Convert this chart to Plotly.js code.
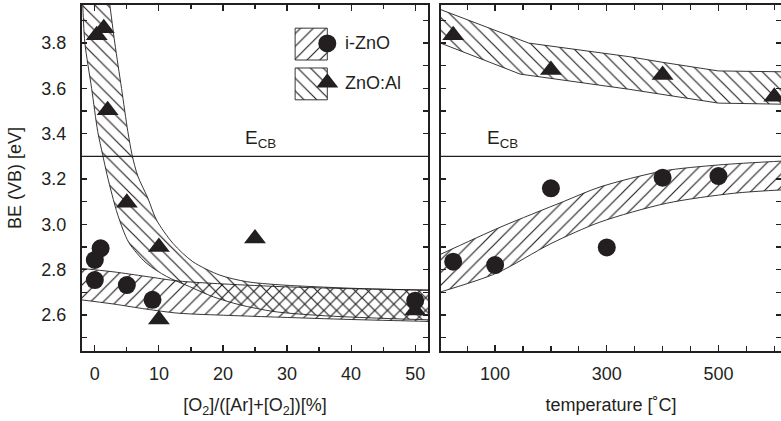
<!DOCTYPE html>
<html>
<head>
<meta charset="utf-8">
<script src="https://cdn.plot.ly/plotly-3.0.1.min.js"></script>
<style>
  html, body { margin: 0; padding: 0; background: #fff; }
  #chart { width: 781px; height: 421px; }
</style>
</head>
<body>
<div id="chart"></div>
<script>
// Valence-band binding energy of i-ZnO and ZnO:Al films
// versus O2 fraction in the sputter gas (left) and deposition temperature (right).

// ---- left panel: O2 fraction [%] ----
const o2Izno   = [0, 0.9, 0, 5, 9, 50];
const beO2Izno = [2.843, 2.894, 2.754, 2.732, 2.667, 2.663];
const o2Al     = [0.3, 1.4, 2, 5, 10, 10, 25, 50];
const beO2Al   = [3.835, 3.865, 3.504, 3.095, 2.90, 2.58, 2.938, 2.62];

// guide bands (lower / upper edge) for the O2 series
const o2AlLowX  = [-2.1, -1.9, -1.55, -0.5, 0.45, 1.2, 1.9, 2.7, 3.6, 5.3, 8.0, 11.2, 14.8, 18.5, 22.6, 28, 35, 45, 53];
const o2AlLowY  = [4.05, 3.97, 3.80, 3.60, 3.41, 3.31, 3.22, 3.13, 3.04, 2.92, 2.83, 2.77, 2.725, 2.68, 2.645, 2.615, 2.598, 2.585, 2.578];
const o2AlHighX = [1.9, 2.34, 3.12, 4.17, 5.15, 5.82, 6.71, 8.27, 9.63, 12.2, 15.3, 19.5, 23.7, 28.9, 40, 53];
const o2AlHighY = [4.05, 3.968, 3.80, 3.60, 3.41, 3.306, 3.213, 3.116, 3.019, 2.916, 2.835, 2.776, 2.747, 2.733, 2.718, 2.708];
const o2ZnoLowX  = [-3, 3, 8, 13, 21, 29, 40, 53];
const o2ZnoLowY  = [2.67, 2.648, 2.626, 2.608, 2.598, 2.59, 2.58, 2.571];
const o2ZnoHighX = [-3, 3, 8, 13, 20, 30, 40, 53];
const o2ZnoHighY = [2.808, 2.79, 2.77, 2.75, 2.737, 2.724, 2.716, 2.71];

// ---- right panel: temperature [°C] ----
const tIzno   = [25, 100, 200, 300, 400, 500];
const beTIzno = [2.835, 2.82, 3.159, 2.898, 3.206, 3.213];
const tAl     = [25, 200, 400, 600];
const beTAl   = [3.835, 3.681, 3.659, 3.563];

const tAlLowX  = [0, 145, 340, 400, 500, 620];
const tAlLowY  = [3.802, 3.663, 3.596, 3.574, 3.535, 3.53];
const tAlHighX = [0, 160, 340, 400, 500, 620];
const tAlHighY = [3.95, 3.80, 3.74, 3.715, 3.677, 3.673];
const tZnoLowX  = [0, 103, 200, 288, 407, 527, 620];
const tZnoLowY  = [2.70, 2.785, 2.915, 3.01, 3.093, 3.137, 3.153];
const tZnoHighX = [0, 109, 222, 288, 400, 500, 620];
const tZnoHighY = [2.865, 2.987, 3.10, 3.165, 3.235, 3.262, 3.28];

// conduction-band edge
const ECB = 3.3;

// axis ticks
const o2Ticks = [0, 10, 20, 30, 40, 50];
const beTicks = [2.6, 2.8, 3.0, 3.2, 3.4, 3.6, 3.8];
const tTicks  = [100, 300, 500];

const seriesNames = ['i-ZnO', 'ZnO:Al'];

// ---- styling ----
const INK = '#231f20';
const FONT = 'Liberation Sans, Arial, Helvetica, sans-serif';
const HATCH_ZNO = { shape: '/',  size: 9, solidity: 0.13, fgcolor: INK };
const HATCH_AL  = { shape: '\\', size: 9, solidity: 0.13, fgcolor: INK };
const EDGE = { color: INK, width: 0.9 };

function band(lx, ly, hx, hy, xa, ya, hatch, shape) {
  const line = Object.assign({ shape: shape, smoothing: 0.8 }, EDGE);
  return [
    { x: lx, y: ly, xaxis: xa, yaxis: ya, mode: 'lines', line: line, hoverinfo: 'skip' },
    { x: hx, y: hy, xaxis: xa, yaxis: ya, mode: 'lines', line: line, hoverinfo: 'skip',
      fill: 'tonexty', fillcolor: 'rgba(0,0,0,0)', fillpattern: hatch }
  ];
}

function points(x, y, xa, ya, symbol, size) {
  return { x: x, y: y, xaxis: xa, yaxis: ya, mode: 'markers', hoverinfo: 'skip',
           marker: { symbol: symbol, size: size, color: INK, line: { width: 0 } } };
}

const CIRCLE = 18, TRIANGLE = 19;

const traces = [].concat(
  band(o2AlLowX, o2AlLowY, o2AlHighX, o2AlHighY, 'x', 'y', HATCH_AL, 'spline'),
  band(o2ZnoLowX, o2ZnoLowY, o2ZnoHighX, o2ZnoHighY, 'x', 'y', HATCH_ZNO, 'spline'),
  band(tAlLowX, tAlLowY, tAlHighX, tAlHighY, 'x2', 'y2', HATCH_AL, 'linear'),
  band(tZnoLowX, tZnoLowY, tZnoHighX, tZnoHighY, 'x2', 'y2', HATCH_ZNO, 'spline'),
  [
    points(o2Izno, beO2Izno, 'x', 'y', 'circle', CIRCLE),
    points(o2Al, beO2Al, 'x', 'y', 'triangle-up', TRIANGLE),
    points(tIzno, beTIzno, 'x2', 'y2', 'circle', CIRCLE),
    points(tAl, beTAl, 'x2', 'y2', 'triangle-up', TRIANGLE)
  ]
);

// legend key: hatched swatch with the series marker on its right edge,
// laid out in a unit box overlaying the left panel
const KEY = { x0: 0.616, x1: 0.709, rows: [[0.841, 0.933], [0.726, 0.818]], mark: [0.889, 0.775], text: 0.753 };
const keyHatch = [HATCH_ZNO, HATCH_AL];
const keySymbol = ['circle', 'triangle-up'];
const keySize = [CIRCLE, TRIANGLE];
seriesNames.forEach(function (name, i) {
  const r = KEY.rows[i];
  traces.push({
    x: [KEY.x0, KEY.x1, KEY.x1, KEY.x0, KEY.x0], y: [r[0], r[0], r[1], r[1], r[0]],
    xaxis: 'x3', yaxis: 'y3', mode: 'lines', line: { color: INK, width: 0.9 },
    fill: 'toself', fillcolor: 'rgba(0,0,0,0)', fillpattern: keyHatch[i], hoverinfo: 'skip'
  });
  traces.push({
    x: [KEY.x1], y: [KEY.mark[i]], xaxis: 'x3', yaxis: 'y3', mode: 'markers', hoverinfo: 'skip',
    marker: { symbol: keySymbol[i], size: keySize[i], color: INK }, cliponaxis: false
  });
});

const tickFont = { family: FONT, size: 18, color: INK };
const titleFont = { family: FONT, size: 18, color: INK };
const baseAxis = {
  showline: true, linewidth: 2, linecolor: INK, mirror: 'ticks',
  ticks: 'inside', tickwidth: 1.2, tickcolor: INK,
  showgrid: false, zeroline: false, tickfont: tickFont, fixedrange: true
};

const layout = {
  width: 781, height: 421,
  margin: { l: 0, r: 0, t: 5, b: 70 },
  paper_bgcolor: '#fff', plot_bgcolor: 'rgba(0,0,0,0)',
  showlegend: false,
  font: { family: FONT, color: INK, size: 18 },
  xaxis: Object.assign({}, baseAxis, {
    domain: [0.105, 0.548], range: [-2, 52], anchor: 'y',
    tickmode: 'array', tickvals: o2Ticks, ticklen: 6, ticklabelstandoff: 5,
    minor: { dtick: 5, tick0: 0, ticks: 'inside', ticklen: 4, tickwidth: 1.2, tickcolor: INK },
    title: { text: '[O<sub>2</sub>]/([Ar]+[O<sub>2</sub>])[%]', font: titleFont, standoff: 16 }
  }),
  yaxis: Object.assign({}, baseAxis, {
    domain: [0, 1], range: [2.441, 3.968], anchor: 'x',
    tickmode: 'array', tickvals: beTicks, tickformat: '.1f', ticklen: 5, ticklabelstandoff: 10,
    minor: { dtick: 0.1, tick0: 2.5, ticks: 'inside', ticklen: 5, tickwidth: 1.2, tickcolor: INK },
    title: { text: 'BE (VB) [eV]', font: titleFont, standoff: 15 }
  }),
  xaxis2: Object.assign({}, baseAxis, {
    domain: [0.5647, 1], range: [3.2, 612], anchor: 'y2',
    tickmode: 'array', tickvals: tTicks, ticklen: 6, ticklabelstandoff: 5,
    minor: { dtick: 50, tick0: 0, ticks: 'inside', ticklen: 5, tickwidth: 1.2, tickcolor: INK },
    title: { text: 'temperature [˚C]', font: titleFont, standoff: 16 }
  }),
  yaxis2: Object.assign({}, baseAxis, {
    domain: [0, 1], range: [2.441, 3.968], anchor: 'x2',
    tickmode: 'array', tickvals: beTicks, ticklen: 5, showticklabels: false,
    minor: { dtick: 0.1, tick0: 2.5, ticks: 'inside', ticklen: 5, tickwidth: 1.2, tickcolor: INK }
  }),
  xaxis3: { overlaying: 'x', range: [0, 1], visible: false, anchor: 'y3', fixedrange: true },
  yaxis3: { overlaying: 'y', range: [0, 1], visible: false, anchor: 'x3', fixedrange: true },
  shapes: [
    { type: 'line', xref: 'x domain', yref: 'y', x0: 0, x1: 1, y0: ECB, y1: ECB, line: { color: INK, width: 1.2 } },
    { type: 'line', xref: 'x2 domain', yref: 'y2', x0: 0, x1: 1, y0: ECB, y1: ECB, line: { color: INK, width: 1.2 } }
  ],
  annotations: [
    { xref: 'x', yref: 'y', x: 23.2, y: ECB, xanchor: 'left', yanchor: 'bottom', yshift: 3,
      text: 'E<sub>CB</sub>', showarrow: false, font: { family: FONT, size: 19, color: INK } },
    { xref: 'x2', yref: 'y2', x: 82, y: ECB, xanchor: 'left', yanchor: 'bottom', yshift: 3,
      text: 'E<sub>CB</sub>', showarrow: false, font: { family: FONT, size: 19, color: INK } }
  ].concat(seriesNames.map(function (name, i) {
    return { xref: 'x3', yref: 'y3', x: KEY.text, y: KEY.mark[i], xanchor: 'left', yanchor: 'middle',
             text: name, showarrow: false, font: { family: FONT, size: 18, color: INK } };
  }))
};

Plotly.newPlot('chart', traces, layout, { displayModeBar: false, staticPlot: true });
</script>
</body>
</html>
